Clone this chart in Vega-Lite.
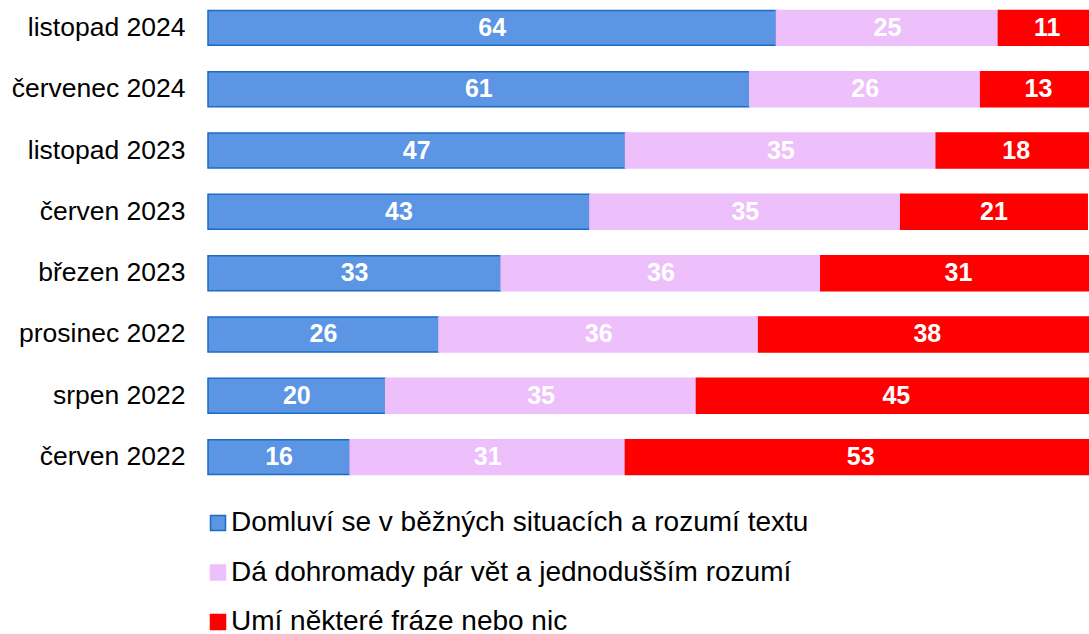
{
  "$schema": "https://vega.github.io/schema/vega-lite/v6.json",
  "autosize": "none",
  "width": 881,
  "height": 485,
  "padding": {"left": 208, "top": 0, "right": 0, "bottom": 149},
  "background": "white",
  "config": {"view": {"stroke": null}, "font": "Liberation Sans"},
  "data": {"values": [
    {"period": "listopad 2024", "cat": "Domluví se v běžných situacích a rozumí textu", "k": 1, "value": 64},
    {"period": "listopad 2024", "cat": "Dá dohromady pár vět a jednodušším rozumí", "k": 2, "value": 25},
    {"period": "listopad 2024", "cat": "Umí některé fráze nebo nic", "k": 3, "value": 11},
    {"period": "červenec 2024", "cat": "Domluví se v běžných situacích a rozumí textu", "k": 1, "value": 61},
    {"period": "červenec 2024", "cat": "Dá dohromady pár vět a jednodušším rozumí", "k": 2, "value": 26},
    {"period": "červenec 2024", "cat": "Umí některé fráze nebo nic", "k": 3, "value": 13},
    {"period": "listopad 2023", "cat": "Domluví se v běžných situacích a rozumí textu", "k": 1, "value": 47},
    {"period": "listopad 2023", "cat": "Dá dohromady pár vět a jednodušším rozumí", "k": 2, "value": 35},
    {"period": "listopad 2023", "cat": "Umí některé fráze nebo nic", "k": 3, "value": 18},
    {"period": "červen 2023", "cat": "Domluví se v běžných situacích a rozumí textu", "k": 1, "value": 43},
    {"period": "červen 2023", "cat": "Dá dohromady pár vět a jednodušším rozumí", "k": 2, "value": 35},
    {"period": "červen 2023", "cat": "Umí některé fráze nebo nic", "k": 3, "value": 21},
    {"period": "březen 2023", "cat": "Domluví se v běžných situacích a rozumí textu", "k": 1, "value": 33},
    {"period": "březen 2023", "cat": "Dá dohromady pár vět a jednodušším rozumí", "k": 2, "value": 36},
    {"period": "březen 2023", "cat": "Umí některé fráze nebo nic", "k": 3, "value": 31},
    {"period": "prosinec 2022", "cat": "Domluví se v běžných situacích a rozumí textu", "k": 1, "value": 26},
    {"period": "prosinec 2022", "cat": "Dá dohromady pár vět a jednodušším rozumí", "k": 2, "value": 36},
    {"period": "prosinec 2022", "cat": "Umí některé fráze nebo nic", "k": 3, "value": 38},
    {"period": "srpen 2022", "cat": "Domluví se v běžných situacích a rozumí textu", "k": 1, "value": 20},
    {"period": "srpen 2022", "cat": "Dá dohromady pár vět a jednodušším rozumí", "k": 2, "value": 35},
    {"period": "srpen 2022", "cat": "Umí některé fráze nebo nic", "k": 3, "value": 45},
    {"period": "červen 2022", "cat": "Domluví se v běžných situacích a rozumí textu", "k": 1, "value": 16},
    {"period": "červen 2022", "cat": "Dá dohromady pár vět a jednodušším rozumí", "k": 2, "value": 31},
    {"period": "červen 2022", "cat": "Umí některé fráze nebo nic", "k": 3, "value": 53}
  ]},
  "encoding": {
    "y": {
      "field": "period", "type": "nominal",
      "sort": ["listopad 2024", "červenec 2024", "listopad 2023", "červen 2023", "březen 2023", "prosinec 2022", "srpen 2022", "červen 2022"],
      "scale": {"paddingInner": 0.43, "paddingOuter": 0.17},
      "axis": {"title": null, "domain": false, "ticks": false, "labelFontSize": 26.5, "labelColor": "#000000", "labelPadding": 23, "labelFont": "Liberation Sans", "labelLimit": 300}
    },
    "x": {"field": "value", "type": "quantitative", "stack": "zero", "scale": {"domain": [0, 99.2]}, "axis": null},
    "order": {"field": "k", "type": "quantitative", "sort": "ascending"}
  },
  "layer": [
    {
      "mark": {"type": "bar", "strokeWidth": 1.5},
      "encoding": {
        "color": {
          "field": "cat", "type": "nominal",
          "scale": {
            "domain": ["Domluví se v běžných situacích a rozumí textu", "Dá dohromady pár vět a jednodušším rozumí", "Umí některé fráze nebo nic"],
            "range": ["#5B95E4", "#EDC0FB", "#FF0000"]
          },
          "legend": {
            "title": null, "orient": "none", "legendX": -4, "legendY": 509, "direction": "vertical",
            "symbolType": "square", "symbolSize": 225, "symbolStrokeWidth": 1.5,
            "labelFontSize": 28, "labelFont": "Liberation Sans", "labelColor": "#000000",
            "labelOffset": -1, "rowPadding": 21.5, "labelLimit": 700
          }
        },
        "stroke": {
          "field": "cat", "type": "nominal",
          "scale": {
            "domain": ["Domluví se v běžných situacích a rozumí textu", "Dá dohromady pár vět a jednodušším rozumí", "Umí některé fráze nebo nic"],
            "range": ["#1B6CC2", "#EDC0FB", "#FF0000"]
          },
          "legend": {
            "title": null, "orient": "none", "legendX": -4, "legendY": 509, "direction": "vertical",
            "symbolType": "square", "symbolSize": 225, "symbolStrokeWidth": 1.5,
            "labelFontSize": 28, "labelFont": "Liberation Sans", "labelColor": "#000000",
            "labelOffset": -1, "rowPadding": 21.5, "labelLimit": 700
          }
        }
      }
    },
    {
      "mark": {"type": "text", "color": "white", "fontSize": 25, "fontWeight": "bold", "font": "Liberation Sans", "baseline": "middle", "align": "center"},
      "encoding": {
        "x": {"field": "value", "type": "quantitative", "stack": "zero", "bandPosition": 0.5},
        "text": {"field": "value", "type": "quantitative"}
      }
    }
  ]
}
